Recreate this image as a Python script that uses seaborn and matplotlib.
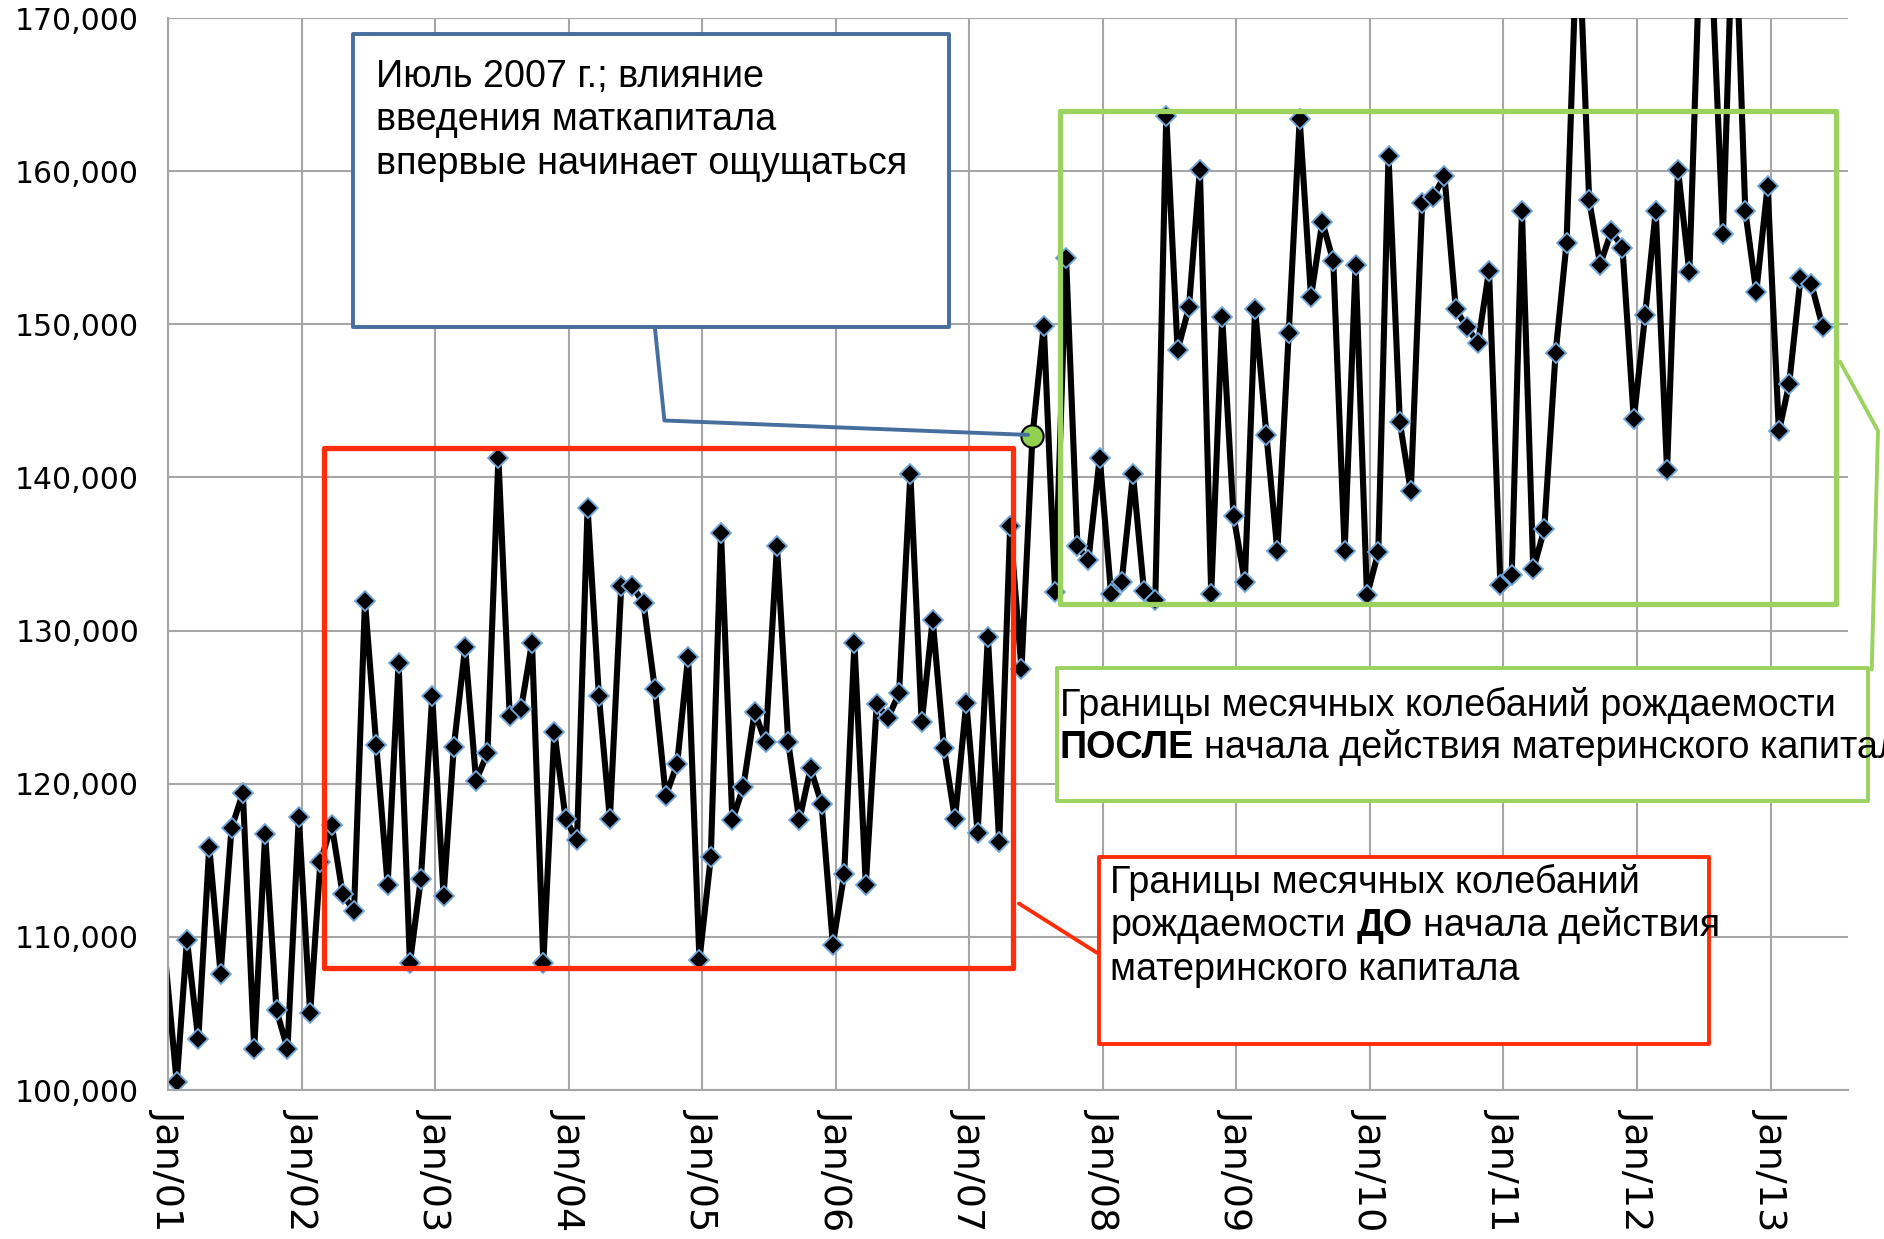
import pandas as pd
import matplotlib
matplotlib.use("Agg")
import matplotlib.pyplot as plt
import matplotlib.dates as mdates
from matplotlib.ticker import MultipleLocator, FuncFormatter
from matplotlib.patches import Rectangle
from matplotlib.lines import Line2D
import seaborn as sns

# monthly births, Jan 2001 .. Jun 2013
births = [
    108500, 100500, 109800, 103300, 115900, 107600, 117100, 119400, 102700, 116700, 105200, 102700,  # 2001
    117800, 105000, 114900, 117300, 112800, 111700, 131900, 122500, 113400, 127900, 108300, 113800,  # 2002
    125700, 112700, 122400, 128900, 120200, 122000, 141300, 124400, 124900, 129200, 108300, 123400,  # 2003
    117700, 116300, 138000, 125700, 117700, 132900, 132900, 131800, 126200, 119200, 121300, 128300,  # 2004
    108500, 115200, 136400, 117600, 119800, 124700, 122700, 135500, 122700, 117600, 121000, 118700,  # 2005
    109500, 114100, 129200, 113400, 125200, 124300, 125900, 140200, 124000, 130700, 122300, 117700,  # 2006
    125300, 116800, 129600, 116200, 136800, 127500, 142700, 149900, 132500, 154300, 135500, 134600,  # 2007
    141300, 132400, 133200, 140200, 132600, 132000, 163600, 148300, 151100, 160100, 132400, 150500,  # 2008
    137500, 133200, 151000, 142800, 135200, 149400, 163400, 151800, 156700, 154100, 135200, 153900,  # 2009
    132300, 135100, 161000, 143600, 139100, 157900, 158300, 159700, 151000, 149800, 148800, 153500,  # 2010
    133000, 133600, 157400, 134000, 136600, 148100, 155300, 177000, 158100, 153900, 156100, 155000,  # 2011
    143800, 150600, 157400, 140500, 160100, 153400, 175400, 173300, 155900, 179000, 157400, 152100,  # 2012
    159000, 143000, 146100, 153000, 152600, 149800,                                                  # 2013
]
first_month = "2001-01-01"
highlight_month = "2007-07-01"
axis_end = "2013-08-01"

blue_note = ["Июль 2007 г.; влияние", "введения маткапитала", "впервые начинает ощущаться"]
red_note = [
    [("Границы месячных колебаний", "normal")],
    [("рождаемости", "normal"), ("ДО", "bold"), ("начала действия", "normal")],
    [("материнского капитала", "normal")],
]
green_note = [
    [("Границы месячных колебаний рождаемости", "normal")],
    [("ПОСЛЕ", "bold"), ("начала действия материнского капитала", "normal")],
]

W, H = 1884, 1239
BLUE, RED, GREEN, GRID = "#466e9e", "#ff2d0a", "#9cd25f", "#a6a6a6"

sns.set_theme(style="white")
plt.rcParams["font.family"] = ["Liberation Sans", "DejaVu Sans"]

months = pd.date_range(first_month, periods=len(births), freq="MS")
# the excel date axis puts each point about a week before its month line
df = pd.DataFrame({"date": months - pd.Timedelta(days=8), "births": births})

fig = plt.figure(figsize=(W / 100, H / 100), dpi=100)
ax = fig.add_axes([168.3 / W, 1 - 1090 / H, (1848 - 168.3) / W, (1090 - 18) / H])

# first point sits left of the axis start: excel hides its marker
sns.lineplot(data=df, x="date", y="births", ax=ax, color="black", linewidth=4.4,
             marker="D", markersize=10, markerfacecolor="black",
             markeredgecolor="#6fa8dc", markeredgewidth=1.3,
             markevery=slice(1, None), solid_joinstyle="round")

hl = df[months == pd.Timestamp(highlight_month)]
ax.plot(hl["date"], hl["births"], "o", markersize=16, markerfacecolor="#92d050",
        markeredgecolor="black", markeredgewidth=1.5, zorder=5)

ax.set_xlim(pd.Timestamp(first_month), pd.Timestamp(axis_end))
ax.set_ylim(100000, 170000)
ax.yaxis.set_major_locator(MultipleLocator(10000))
ax.yaxis.set_major_formatter(FuncFormatter(lambda v, _: f"{v:,.0f}"))
ax.xaxis.set_major_locator(mdates.YearLocator())
ax.xaxis.set_major_formatter(mdates.DateFormatter("%b/%y"))
ax.set_xlabel("")
ax.set_ylabel("")

ax.grid(True, color=GRID, linewidth=1.5)
ax.set_axisbelow(True)
for side in ["top", "right"]:
    ax.spines[side].set_visible(False)
for side in ["left", "bottom"]:
    ax.spines[side].set_color(GRID)
    ax.spines[side].set_linewidth(1.5)
ax.tick_params(axis="both", direction="out", length=8, width=1.5, color=GRID,
               labelcolor="black")
ax.tick_params(axis="y", labelsize=21.5, pad=13)
ax.tick_params(axis="x", labelsize=27.5, pad=6, labelrotation=-90)
for lbl in ax.get_yticklabels() + ax.get_xticklabels():
    lbl.set_family(["DejaVu Sans"])


def fx(x):
    return x / W


def fy(y):
    return 1 - y / H


def box(x0, y0, x1, y1, color, lw, fill="none"):
    fig.add_artist(Rectangle((fx(x0), fy(y1)), (x1 - x0) / W, (y1 - y0) / H,
                             transform=fig.transFigure, facecolor=fill,
                             edgecolor=color, linewidth=lw, joinstyle="round"))


def poly(pts, color, lw):
    fig.add_artist(Line2D([fx(p[0]) for p in pts], [fy(p[1]) for p in pts],
                          transform=fig.transFigure, color=color, linewidth=lw,
                          solid_joinstyle="round"))


renderer = fig.canvas.get_renderer()
FS = 27.2
space = 0.278 * FS * 100 / 72


def note(x, baselines, lines):
    for y, runs in zip(baselines, lines):
        if isinstance(runs, str):
            runs = [(runs, "normal")]
        cx = x
        for text, weight in runs:
            t = fig.text(fx(cx), fy(y), text, fontsize=FS, fontweight=weight,
                         color="black", va="baseline", ha="left")
            cx += t.get_window_extent(renderer).width + space


# blue callout
box(353.2, 33.6, 949.2, 326.8, BLUE, 2.8, fill="white")
poly([(654.8, 326.8), (664.4, 420.5), (1028, 434.9)], BLUE, 2.8)
note(376, [86.5, 129.8, 174.2], blue_note)

# red: before maternity capital
box(324.4, 448.2, 1012.9, 968.4, RED, 3.8)
poly([(1018.9, 903.5), (1097, 952.8)], RED, 2.8)
box(1099.4, 856.7, 1708.5, 1044.1, RED, 2.8, fill="white")
note(1110.2, [892.7, 936, 980.4], red_note)

# green: after maternity capital (the reference runs this text off the right edge)
box(1059.7, 110.5, 1835.9, 604.4, GREEN, 3.8)
poly([(1840, 361.6), (1878, 430.8), (1871.7, 669.6)], GREEN, 2.8)
box(1057.3, 668, 1868.3, 801.4, GREEN, 2.8, fill="white")
note(1059.7, [716, 758], green_note)

fig.savefig("out.png", dpi=100)
